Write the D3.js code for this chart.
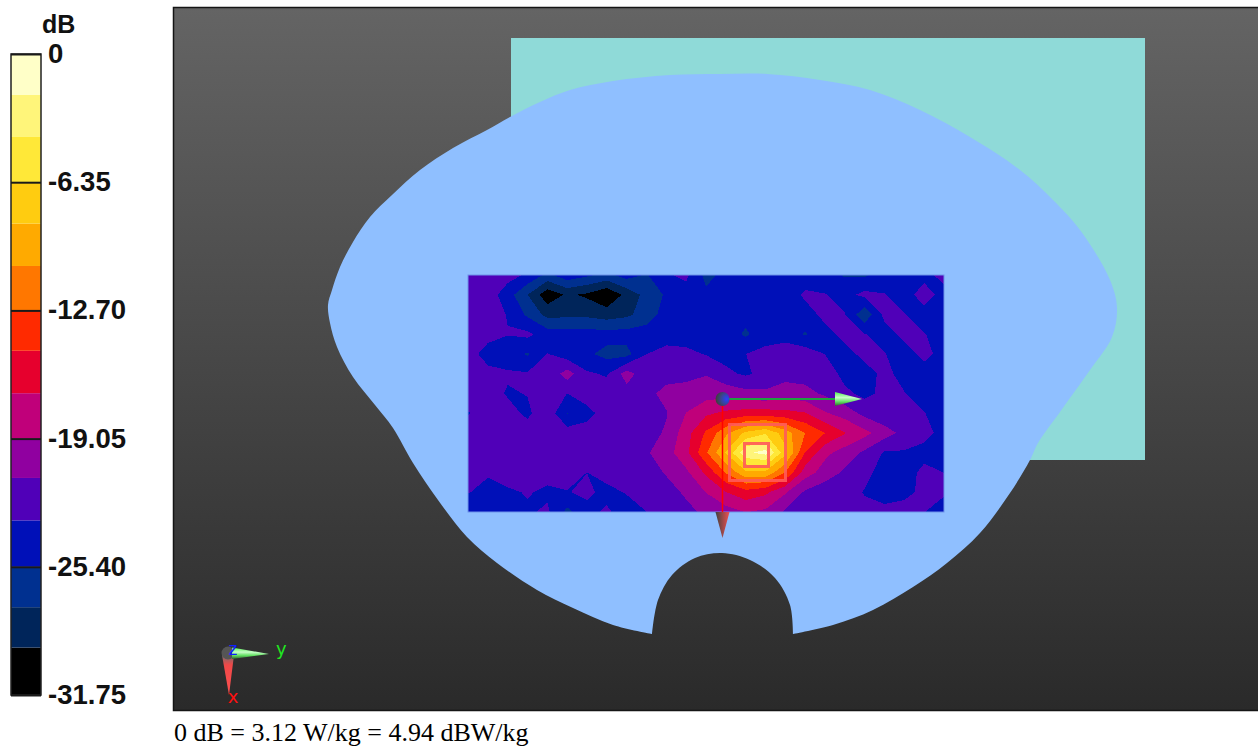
<!DOCTYPE html>
<html><head><meta charset="utf-8">
<script src="https://cdnjs.cloudflare.com/ajax/libs/d3/7.8.5/d3.min.js"></script>
<style>
html,body{margin:0;padding:0;background:#fff;overflow:hidden}
svg{display:block}
.lab{font-family:"Liberation Sans",sans-serif;font-weight:bold;fill:#111}
</style></head><body><svg id="c" width="1258" height="746"></svg>
<script>
// ---- data ----
const legendTicks=[0,-6.35,-12.70,-19.05,-25.40,-31.75];
const legendLabels=["0","-6.35","-12.70","-19.05","-25.40","-31.75"];
const bandColors=["#000000","#00255a","#003090","#0010b8","#5000b8","#9000a0","#c0007a","#e6002d","#ff2a00","#ff7700","#ffaa00","#ffcc10","#ffe838","#fff57a","#ffffc8"];
const legendEdges=[-31.75,-29.4,-27.4,-25.4,-23.1,-21.0,-19.05,-16.8,-14.7,-12.7,-10.5,-8.4,-6.35,-4.11,-2.03];
const caption="0 dB = 3.12 W/kg = 4.94 dBW/kg";
// measured field, dB, 25 columns x 13 rows
const field=[
[-22,-22,-22.5,-23.6,-26,-24,-25,-26,-24.5,-25.6,-23.5,-22.8,-26,-24.8,-24.2,-24.5,-25,-24.5,-24.5,-25.6,-25.7,-24.5,-24.5,-24,-22.5],
[-22,-22.2,-24.4,-27.5,-31,-29.3,-30,-31.5,-29,-26.8,-25.1,-24.3,-25,-24.5,-24.5,-24.5,-24.5,-22.9,-23.2,-24,-22.7,-23.2,-24.3,-22.2,-24.2],
[-22,-22.2,-23.4,-25.8,-28.2,-28,-28,-28.6,-28,-26.5,-24.5,-24,-24.5,-24.5,-24.8,-25,-24.3,-24.2,-22.7,-23.2,-27,-22.7,-23.2,-24.2,-24],
[-22,-22.3,-23.2,-22.8,-24.3,-24.5,-24.5,-24.5,-24.5,-24.4,-24.3,-24.2,-24.4,-24.4,-25.7,-24.3,-24.2,-25.6,-24,-22.7,-23.2,-24.2,-22.7,-23.2,-24],
[-22,-24.5,-24.5,-25.6,-23.2,-24.5,-25,-26.1,-26.1,-23.3,-22.5,-22.8,-23.4,-24,-23.3,-22.6,-22,-22,-23.3,-24,-22.7,-23.2,-24.2,-22.7,-24],
[-22,-22.4,-23,-23.1,-22.8,-20.2,-23,-23.5,-20.2,-22.6,-22,-21.8,-21.3,-22.8,-23.6,-22.6,-22,-22,-22,-24,-24.2,-22.7,-24,-24.2,-24.5],
[-22.3,-22.3,-23.5,-23.2,-22.5,-23.3,-22.2,-22.3,-22,-21.8,-20.5,-20.3,-20,-19.8,-20.5,-20.8,-20,-20.5,-21.5,-22.8,-23.8,-22.8,-23.2,-24,-24.5],
[-23.4,-22.5,-22.5,-23.7,-21.8,-25.5,-24,-22.3,-22.3,-22.5,-21.3,-19,-17.3,-16.5,-16,-16,-16.3,-16.8,-18.8,-20,-21.8,-22.8,-22.9,-23.2,-24.5],
[-22.3,-22.3,-22.3,-22.3,-22.3,-22.3,-22.3,-22.3,-22.2,-22,-20.9,-17.8,-14.5,-11,-8,-6.6,-9.5,-12.7,-14.8,-16.8,-18.4,-20.2,-21.8,-22.6,-24],
[-22.3,-22.3,-22.3,-22.3,-22.3,-22.3,-22.3,-22.3,-22.2,-21.4,-20,-17.5,-13,-8.3,-2.5,-1.4,-7.8,-14.9,-18.5,-20,-21.6,-23.5,-23.5,-24,-24],
[-22,-23.1,-22,-22.2,-22.5,-22.2,-23.3,-22.3,-22.5,-22.5,-20.9,-19.5,-16.5,-12.5,-9,-9,-12.7,-18,-20,-21.5,-22.8,-24,-24.3,-22.7,-23.3],
[-23.2,-23.8,-23.7,-23.1,-23.7,-23.4,-22.8,-24,-23.1,-22.5,-22.3,-20.7,-19,-17,-15.6,-16.5,-18.8,-21.5,-22.5,-22.5,-23.4,-24,-23.6,-23,-22.8],
[-24.5,-24.5,-24.5,-23.6,-22.9,-26,-24,-22.9,-24.5,-23.3,-23,-22,-20.5,-20,-19,-19.5,-21.5,-22.5,-22.8,-22.8,-22.8,-22.8,-22.8,-23.2,-25]];
// scene geometry in scene units
const outerBody=[[478,626],[439,617],[399,600],[363,582],[323,555],[293,529],[264,492],[239,455],[219,420],[201,397],[179,369],[163,339],[156,315],[154,297],[158,282],[166,259],[179,234],[196,209],[218,187],[246,162],[279,140],[313,122],[336,109],[366,94],[396,82],[439,73],[496,67],[546,66],[593,66],[646,72],[696,82],[746,102],[796,129],[846,162],[879,192],[906,222],[936,272],[943,300],[938,329],[916,362],[886,404],[864,435],[856,452],[836,485],[806,525],[773,555],[739,579],[699,602],[659,617],[619,626]];
const notch=[[619,626],[616,597],[601,570],[576,552],[548,545],[521,550],[498,567],[484,592],[478,626]];
const tankRect=[337,30,971,452];
const scanRect=[294,267,770,504];

// ---- scales ----
const W=1258,H=746;
const svg=d3.select("#c");
const defs=svg.append("defs");
const sx=d3.scaleLinear().domain([0,1084]).range([174,1258]);
const sy=d3.scaleLinear().domain([0,702]).range([8,710]);
const grad=defs.append("linearGradient").attr("id","bg").attr("x1",0).attr("x2",0).attr("y1",0).attr("y2",1);
grad.append("stop").attr("offset",0).attr("stop-color","#646464");
grad.append("stop").attr("offset",1).attr("stop-color","#2a2a2a");

// ---- scene ----
svg.append("rect").attr("x",sx(0)-1).attr("y",sy(0)).attr("width",1085).attr("height",702).attr("fill","url(#bg)");
svg.append("path").attr("d",`M${sx(1084)} ${sy(0)-0.5}H${sx(0)-0.5}V${sy(702)+0.5}H${sx(1084)}`).attr("fill","none").attr("stroke","#151515").attr("stroke-width",1.5);
svg.append("rect").attr("x",sx(tankRect[0])).attr("y",sy(tankRect[1])).attr("width",sx(tankRect[2])-sx(tankRect[0])).attr("height",sy(tankRect[3])-sy(tankRect[1])).attr("fill","#8fdad8");
const bodyLine=d3.line().x(d=>sx(d[0])).y(d=>sy(d[1])).curve(d3.curveCatmullRom.alpha(0.5));
svg.append("path").attr("d",bodyLine(outerBody)+bodyLine(notch).replace(/^M/,"L")+"Z").attr("fill","#8fbfff");

// ---- field contours ----
const ny=field.length,nx=field[0].length;
const flat=field.flat();
const n=bandColors.length;
const lo=legendTicks[5],hi=legendTicks[0];
const thresholds=d3.range(0,n).map(i=>lo+(hi-lo)*i/n);
const contours=d3.contours().size([nx,ny]).smooth(true).thresholds(thresholds)(flat);
const x0=sx(scanRect[0]),x1=sx(scanRect[2]),y0=sy(scanRect[1]),y1=sy(scanRect[3]);
const gx=d3.scaleLinear().domain([0.5,nx-0.5]).range([x0,x1]);
const gy=d3.scaleLinear().domain([0.5,ny-0.5]).range([y0,y1]);
const gridPath=d3.geoPath(d3.geoTransform({point(px,py){this.stream.point(gx(px),gy(py));}}));
defs.append("clipPath").attr("id","scan").append("rect").attr("x",x0).attr("y",y0).attr("width",x1-x0).attr("height",y1-y0);
const gF=svg.append("g").attr("clip-path","url(#scan)");
gF.append("rect").attr("x",x0).attr("y",y0).attr("width",x1-x0).attr("height",y1-y0).attr("fill",bandColors[0]);
gF.selectAll("path").data(contours).join("path").attr("d",gridPath).attr("fill",(d,i)=>bandColors[i]).attr("shape-rendering","crispEdges");
svg.append("rect").attr("x",x0).attr("y",y0).attr("width",x1-x0).attr("height",y1-y0).attr("fill","none").attr("stroke","#6f93ea").attr("stroke-width",1);

// ---- probe overlay ----
const ov=svg.append("g");
const coneR=defs.append("linearGradient").attr("id","coneR").attr("x1",0).attr("x2",1).attr("y1",0).attr("y2",0);
coneR.append("stop").attr("offset",0).attr("stop-color","#404040");coneR.append("stop").attr("offset",1).attr("stop-color","#f05050");
const coneG=defs.append("linearGradient").attr("id","coneG").attr("x1",0).attr("x2",0).attr("y1",0).attr("y2",1);
coneG.append("stop").attr("offset",0).attr("stop-color","#50f050");coneG.append("stop").attr("offset",0.4).attr("stop-color","#c8ffc8");coneG.append("stop").attr("offset",0.7).attr("stop-color","#60e060");coneG.append("stop").attr("offset",1).attr("stop-color","#306030");
const ballG=defs.append("radialGradient").attr("id","ball").attr("cx",0.8).attr("cy",0.5).attr("r",0.75);
ballG.append("stop").attr("offset",0).attr("stop-color","#2a40ff");ballG.append("stop").attr("offset",0.55).attr("stop-color","#3a4590");ballG.append("stop").attr("offset",1).attr("stop-color","#404040");
const ox=sx(548.5),oy=sy(391);
ov.append("line").attr("x1",ox).attr("x2",ox).attr("y1",oy).attr("y2",sy(504)).attr("stroke","#ff0000").attr("stroke-width",1.5);
ov.append("line").attr("x1",ox).attr("x2",sx(662)).attr("y1",oy).attr("y2",oy).attr("stroke","#20a040").attr("stroke-width",2);
ov.append("path").attr("d",d3.line()([[ox-7,sy(504)],[ox+7,sy(504)],[ox,sy(530)]])+"Z").attr("fill","url(#coneR)");
ov.append("path").attr("d",d3.line()([[sx(661),oy-7],[sx(688),oy],[sx(661),oy+7]])+"Z").attr("fill","url(#coneG)");
ov.append("circle").attr("cx",ox).attr("cy",oy).attr("r",7).attr("fill","url(#ball)");
[[555.5,416.5,611.5,472.5],[570.5,435.5,594.5,458.5]].forEach(b=>{
 ov.append("rect").attr("x",sx(b[0])).attr("y",sy(b[1])).attr("width",b[2]-b[0]).attr("height",b[3]-b[1]).attr("fill","none").attr("stroke","#ff5a5a").attr("stroke-opacity",0.9).attr("stroke-width",3);
});

// ---- triad ----
const tr=svg.append("g");
const tx=sx(54),ty=sy(645);
const gr2=defs.append("linearGradient").attr("id","triR").attr("x1",0).attr("x2",0).attr("y1",0).attr("y2",1);
gr2.append("stop").attr("offset",0).attr("stop-color","#707070");gr2.append("stop").attr("offset",0.25).attr("stop-color","#f04848");gr2.append("stop").attr("offset",1).attr("stop-color","#ff5050");
tr.append("path").attr("d",d3.line()([[tx-6,ty+2],[tx+6,ty+2],[tx+1,sy(687)]])+"Z").attr("fill","url(#triR)");
tr.append("circle").attr("cx",tx).attr("cy",ty).attr("r",6.5).attr("fill","#555");
tr.append("path").attr("d",d3.line()([[tx+4,ty-5.5],[sx(95),ty+1],[tx+4,ty+6]])+"Z").attr("fill","url(#coneG)");
tr.append("text").attr("x",tx+5).attr("y",sy(647)).attr("text-anchor","middle").attr("fill","#1020ff").attr("font-family","DejaVu Sans").attr("font-size",17).text("z");
tr.append("text").attr("x",sx(102)).attr("y",sy(647)).attr("fill","#20e820").attr("font-family","DejaVu Sans").attr("font-size",18).text("y");
tr.append("text").attr("x",tx+5).attr("y",sy(695)).attr("text-anchor","middle").attr("fill","#ff1010").attr("font-family","DejaVu Sans").attr("font-size",18).text("x");

// ---- legend ----
const ly=d3.scaleLinear().domain([hi,lo]).range([54,695]);
const lg=svg.append("g");
lg.selectAll("rect.b").data(legendEdges).join("rect").attr("class","b")
 .attr("x",11).attr("width",30)
 .attr("y",(d,i)=>ly(i===n-1?hi:legendEdges[i+1])).attr("height",(d,i)=>ly(d)-ly(i===n-1?hi:legendEdges[i+1]))
 .attr("fill",(d,i)=>bandColors[i]);
lg.append("rect").attr("x",11).attr("y",54).attr("width",30).attr("height",641).attr("fill","none").attr("stroke","#222").attr("stroke-width",1.5);
const axis=d3.axisRight(ly).tickValues(legendTicks).tickSize(0).tickPadding(7).tickFormat((d,i)=>legendLabels[i]);
const ag=svg.append("g").attr("transform","translate(41,0)").call(axis);
ag.select(".domain").remove();
ag.selectAll("text").attr("class","lab").attr("font-size",27.5).attr("font-family",null).style("font-family",'"Liberation Sans"').style("font-weight","bold").attr("dy","0.31em");
ag.selectAll(".tick").append("line").attr("x1",-30).attr("x2",0).attr("stroke","#1a1a1a").attr("stroke-width",2);
svg.append("text").attr("class","lab").attr("x",42).attr("y",33).attr("font-size",25).text("dB");

svg.append("text").attr("x",174).attr("y",741).attr("font-family","Liberation Serif").attr("font-size",26).attr("fill","#000").text(caption);
</script></body></html>
